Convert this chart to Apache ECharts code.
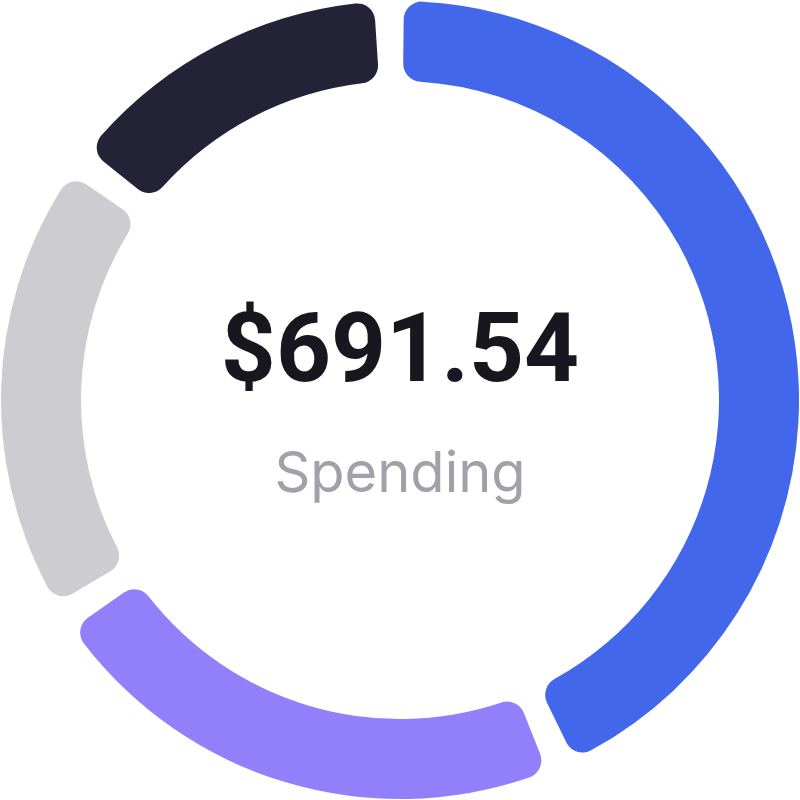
<!DOCTYPE html>
<html>
<head>
<meta charset="utf-8">
<script src="https://cdn.jsdelivr.net/npm/echarts@6/dist/echarts.min.js"></script>
<style>html,body{margin:0;padding:0;background:#fff}#c{width:800px;height:800px}</style>
</head>
<body>
<div id="c"></div>
<script>
const categories = ['Blue', 'Purple', 'Gray', 'Dark'];
const values = [303.22, 155.60, 133.32, 99.40];
const colors = ['#4267EB', '#9180FA', '#CDCCD1', '#232236'];
const totalLabel = '$691.54';
const subLabel = 'Spending';

const chart = echarts.init(document.getElementById('c'), null, {renderer: 'canvas'});
chart.setOption({
  animation: false,
  series: [{
    type: 'pie',
    center: ['50%', '50%'],
    radius: [319, 399],
    startAngle: 91.6,
    clockwise: true,
    padAngle: 4.3,
    silent: true,
    label: {show: false},
    labelLine: {show: false},
    itemStyle: {borderRadius: 18},
    data: categories.map((n, i) => ({name: n, value: values[i], itemStyle: {color: colors[i]}}))
  }],
  graphic: [
    {type: 'text', x: 400, y: 357, style: {text: totalLabel, fill: '#18171F', font: 'bold 96px Roboto', align: 'center', verticalAlign: 'middle'}},
    {type: 'text', x: 400, y: 475, style: {text: subLabel, fill: '#A2A1AA', font: '56px Inter', align: 'center', verticalAlign: 'middle'}}
  ]
});
</script>
</body>
</html>
